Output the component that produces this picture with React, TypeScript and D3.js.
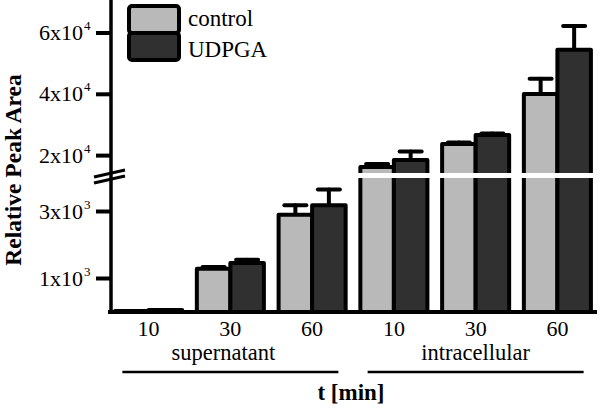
import React from "react";
import * as d3 from "d3";

const groups = ["s10", "s30", "s60", "i10", "i30", "i60"];
const timeLabels = ["10", "30", "60", "10", "30", "60"];
const controlValues = [30, 1290, 2900, 16300, 23800, 40100];
const controlErrTop = [30, 1340, 3190, 17300, 24300, 45100];
const udpgaValues = [60, 1460, 3190, 18600, 26700, 54500];
const udpgaErrTop = [60, 1560, 3660, 21300, 27200, 62300];
const lowerTicks = [1000, 3000];
const lowerTickLabels = [["1x10", "3"], ["3x10", "3"]];
const upperTicks = [20000, 40000, 60000];
const upperTickLabels = [["2x10", "4"], ["4x10", "4"], ["6x10", "4"]];
const seriesNames = ["control", "UDPGA"];
const seriesColors = ["#b9b9b9", "#303030"];
const sampleGroups = ["supernatant", "intracellular"];

const FONT = "'Liberation Serif', 'Times New Roman', serif";

export default function App() {
  const W = 600, H = 409;
  const axisX = 111, axisY = 312;
  const x = d3.scaleBand<string>().domain(groups).range([111, 595]).paddingInner(0.18).paddingOuter(0.05);
  const sub = d3.scaleBand<string>().domain(seriesNames).range([0, x.bandwidth()]);
  const yLow = d3.scaleLinear().domain([0, 4000]).range([312, 178]);
  const yHigh = d3.scaleLinear().domain([14000, 60000]).range([174, 33]);
  const LOW_MAX = 4000;
  const y = (v: number) => (v <= LOW_MAX ? yLow(v) : yHigh(v));

  const series = [
    { name: seriesNames[0], values: controlValues, err: controlErrTop, color: seriesColors[0] },
    { name: seriesNames[1], values: udpgaValues, err: udpgaErrTop, color: seriesColors[1] },
  ];

  const breakBarsStart = groups.findIndex((_, i) => controlValues[i] > LOW_MAX || udpgaValues[i] > LOW_MAX);
  const stripeX0 = (x(groups[breakBarsStart]) as number) - 4;
  const stripeX1 = (x(groups[groups.length - 1]) as number) + x.bandwidth() + 3;
  const labelShift = [-7, 0];

  return (
    <svg width={W} height={H} style={{ position: "absolute", left: 0, top: 0, background: "#fff" }}>
      {/* error bars (drawn under bars) */}
      {series.map((s) =>
        groups.map((g, i) => {
          const cx = (x(g) as number) + (sub(s.name) as number) + sub.bandwidth() / 2;
          if (s.err[i] - s.values[i] < 1) return null;
          return (
            <g key={s.name + g + "e"} stroke="#000" strokeWidth={4} strokeLinecap="round">
              <line x1={cx} x2={cx} y1={y(s.values[i])} y2={y(s.err[i])} />
              <line x1={cx - 11} x2={cx + 11} y1={y(s.err[i])} y2={y(s.err[i])} />
            </g>
          );
        })
      )}
      {/* bars */}
      {series.map((s) =>
        groups.map((g, i) => {
          const bx = (x(g) as number) + (sub(s.name) as number);
          const top = y(s.values[i]);
          return (
            <rect key={s.name + g} x={bx} y={top} width={sub.bandwidth()} height={Math.max(0, axisY - top)}
              fill={s.color} stroke="#000" strokeWidth={4} strokeLinejoin="round" />
          );
        })
      )}
      {/* white break stripe across tall bars */}
      <rect x={stripeX0} y={173} width={stripeX1 - stripeX0} height={5} fill="#fff" />

      {/* y axis */}
      <line x1={axisX} x2={axisX} y1={0} y2={axisY + 2} stroke="#000" strokeWidth={3.5} />
      {/* break marks */}
      <g stroke="#000" strokeWidth={3}>
        <line x1={94} x2={125} y1={177} y2={170} />
        <line x1={94} x2={125} y1={183} y2={176} />
      </g>
      {/* x axis */}
      <line x1={axisX - 3} x2={597} y1={axisY} y2={axisY} stroke="#000" strokeWidth={4} />

      {/* y ticks */}
      {upperTicks.map((t, i) => (
        <g key={"u" + t}>
          <line x1={96} x2={axisX} y1={yHigh(t)} y2={yHigh(t)} stroke="#000" strokeWidth={4} />
          <text x={83} y={yHigh(t) + 7} textAnchor="end" fontFamily={FONT} fontSize={22}>{upperTickLabels[i][0]}</text>
          <text x={84} y={yHigh(t) - 3} fontFamily={FONT} fontSize={13}>{upperTickLabels[i][1]}</text>
        </g>
      ))}
      {lowerTicks.map((t, i) => (
        <g key={"l" + t}>
          <line x1={96} x2={axisX} y1={yLow(t)} y2={yLow(t)} stroke="#000" strokeWidth={4} />
          <text x={83} y={yLow(t) + 7} textAnchor="end" fontFamily={FONT} fontSize={22}>{lowerTickLabels[i][0]}</text>
          <text x={84} y={yLow(t) - 3} fontFamily={FONT} fontSize={13}>{lowerTickLabels[i][1]}</text>
        </g>
      ))}

      {/* x tick labels */}
      {groups.map((g, i) => (
        <text key={"xt" + g} x={(x(g) as number) + x.bandwidth() / 2} y={336} textAnchor="middle" fontFamily={FONT} fontSize={22}>
          {timeLabels[i]}
        </text>
      ))}
      {/* sample group labels & lines */}
      {sampleGroups.map((name, k) => {
        const g0 = groups[k * 3], g2 = groups[k * 3 + 2];
        const x0 = (x(g0) as number) + x.bandwidth() / 2;
        const x2 = (x(g2) as number) + x.bandwidth() / 2;
        const cx = (x0 + x2) / 2;
        return (
          <g key={name}>
            <text x={cx + labelShift[k]} y={360} textAnchor="middle" fontFamily={FONT} fontSize={22.5}>{name}</text>
            <line x1={cx - 108} x2={cx + 108} y1={372} y2={372} stroke="#000" strokeWidth={2.5} />
          </g>
        );
      })}
      <text x={351} y={400} textAnchor="middle" fontFamily={FONT} fontSize={23} fontWeight="bold">t [min]</text>
      <text transform="translate(21,170) rotate(-90)" textAnchor="middle" fontFamily={FONT} fontSize={23.5} fontWeight="bold">
        Relative Peak Area
      </text>

      {/* legend */}
      {series.map((s, i) => (
        <g key={"lg" + s.name}>
          <rect x={129} y={6 + i * 27} width={50} height={27} rx={3} fill={s.color} stroke="#000" strokeWidth={4} />
          <text x={188} y={26 + i * 31} fontFamily={FONT} fontSize={23}>{s.name}</text>
        </g>
      ))}
    </svg>
  );
}
